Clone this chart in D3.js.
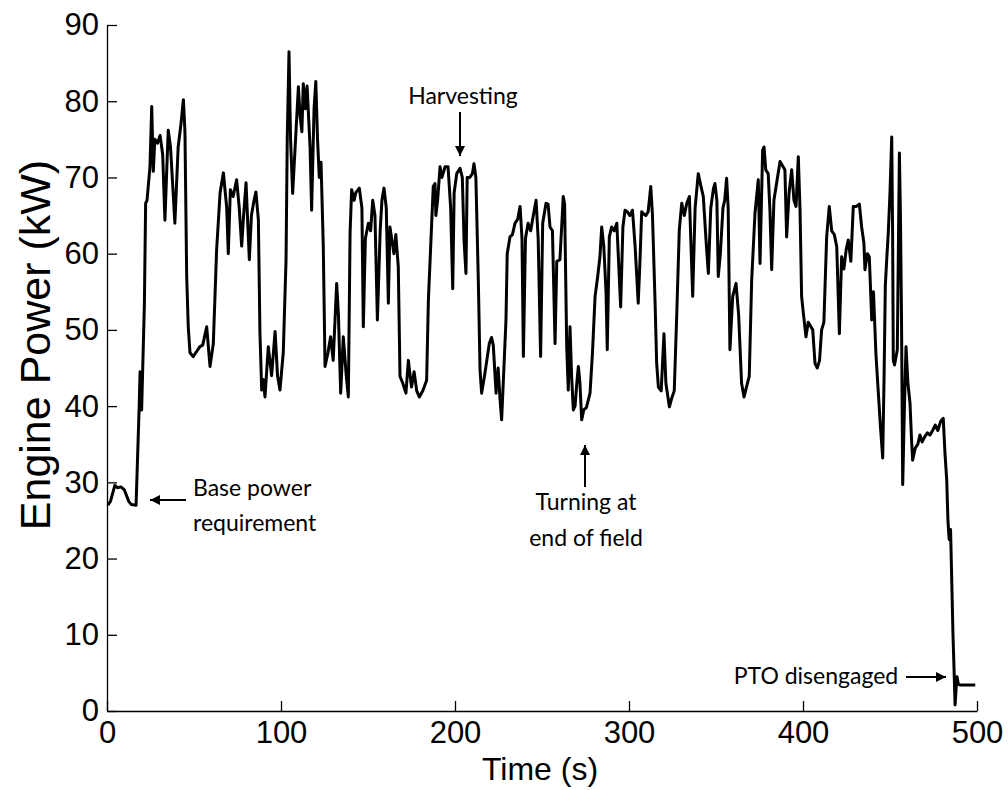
<!DOCTYPE html>
<html>
<head>
<meta charset="utf-8">
<script src="https://cdn.jsdelivr.net/npm/d3@7"></script>
<style>
  body { margin: 0; background: #fff; }
  svg { display: block; }
  .tick text { font-family: "Liberation Sans", Arial, sans-serif; }
  .note { font-family: Lato, "Open Sans", sans-serif; font-size: 23px; fill: #000; }
</style>
</head>
<body>
<script>

// time (s) and engine power (kW)
var timeSec = [0.5,2,4.5,6,8,10,12.5,14,16.7,17.4,18.5,19,19.9,21.5,22.2,23,24.7,25.7,26.6,27.5,29,30.5,32,33.3,34.5,35.2,36.5,37.5,39,40.9,42.5,43.9,44.8,45.8,46.7,47.7,49.5,51,53.4,55,57.3,59.2,61.1,63,65,66.9,68.8,69.7,70.9,72.5,74.5,76,77.4,78.5,79.9,81.8,83,84.5,85.6,87,87.9,88.9,89.8,90.8,92.7,94.6,96.6,98,99.4,101.3,102.9,103.6,104.6,105.5,106.7,108.6,110,111,112,112.8,114,115,116.7,117.6,119,120,121,122,123,124.3,125.3,127,128.5,130,132,133,134.3,135.8,137.5,138.7,139.7,140.6,142,143,145,146.5,147.3,148.5,150.2,151.5,152.7,154,155.4,157,158,159.2,160.5,161.7,162.6,164.9,166,167.4,168.4,170,171.8,173.2,175,176.5,178,179.5,181.5,183.7,184.7,186.6,187.5,188.5,189,190,191.4,192.5,194.3,196,197.5,198.7,199.5,201,202.9,204.2,205.2,206.3,207,208.5,210,210.9,212,213.4,214.4,215.3,217,219.7,221,222,223.6,224.8,225.9,226.8,227.8,229.3,230,231.6,233,234.5,236,237.4,238.5,239.3,240.5,242,243.5,245,246.6,247.8,249.2,250.4,252.3,253.5,254.6,256,257.5,258.5,260.3,261.3,262.2,263,264.2,265.1,266.1,267,268,269,270,270.9,271.8,272.8,274,275.5,277.6,279,280.5,282,283.3,284.3,285.5,286.8,287.5,288.7,290,291.5,293,294.4,295.2,296.5,297.7,299,300.5,302,303.5,305.3,306.3,307.3,308.5,309.7,311,312.5,313.5,315,315.9,316.9,318.5,320.1,321.2,323.2,324.5,326,327.4,328.9,330.3,331.8,333.2,334.7,336.6,338,339.8,341.2,342.7,344.2,345.6,347,348.5,349.4,350.5,351.3,352.5,354,355,356.1,357,358,359.6,361.5,363,364.7,366.1,367.5,369.1,370.5,372.4,374.3,375.3,376.8,377.6,378.6,380,381,382,383.3,385,386.8,388.3,389.6,390.6,392,393.5,394.8,396,397.3,398.3,399.2,400.2,401.7,403,404.3,405.6,406.9,408.2,409.5,410.7,412,413.6,415.1,416.5,418,419.4,420.9,422.2,423.5,424.8,426,427.5,428.9,430.5,432.4,433.7,435,435.6,437,438.1,439.5,440.5,441.9,443.3,444.6,445.8,446.6,447.3,448.1,449,450,451,451.5,451.9,452.6,454.2,455.4,456,456.6,457.3,458.3,459.2,460.3,461.5,462.3,463,464.5,466,467.2,468.5,470,471.5,473,474.5,476,477.5,479.1,480.6,481.6,482.6,483.3,484,484.8,485.5,486.2,487,487.4,488,488.5,489.3,490.5,499];

var powerKW = [27.0,27.5,29.6,29.3,29.4,29.0,27.5,27.1,27.0,32,40,44.5,39.5,53.5,66.6,67,71.4,79.3,70.8,75,74.5,75.5,73,64.4,72,76.2,74,70,64,74,77,80.2,76,57,50.4,47,46.5,47,47.8,48,50.4,45.2,48.2,60.5,68,70.6,66,60,68.4,67.5,69.7,66,61,65,69.3,59.2,65,67,68.1,64.4,49.6,42.1,43.5,41.2,47.8,44,49.8,44,42.1,47,59.2,75.3,86.5,75,67.9,76,81.9,78,76,82.3,79,82,74,65.7,79,82.6,75,70,72,61,45.2,47,49.1,46,56.1,52,41.7,49.1,44,41.2,62.7,68.4,67,68,68.6,66,50.4,62,64,63,67,65,51.3,63,67,68.6,66,53.5,63.5,60,62.5,58.3,43.9,43,41.7,46,42.5,44.5,42,41.2,42,43.4,53.9,64,68.8,69.2,65,67,71.4,70,71.4,71.4,66,55.4,68,70.5,71.2,70,61.8,57.4,70,70,70.5,71.8,70,56.5,44.7,41.7,44,48.2,49,48,41.7,45,40.8,38.2,43.4,51.3,60,62.2,62.5,64,64.5,66.2,62,46.5,62,64,63,65,67,62,46.5,64,66.6,66.5,63.5,63,48.2,59,59.2,63.5,67.5,66.5,47.8,42.1,50.4,44,39.5,40,43,45.2,43,38.2,39.5,39.8,41.7,47,54.4,57,59.6,63.5,61,55,47.4,62.2,63.5,63,64,57,53,63.5,65.7,65.5,65,65.7,61,53.5,59,65.5,65.2,65,65.5,68.8,65,53.5,45.6,42.5,42,49.5,43,39.9,41,42,51.7,63.1,66.6,65,66.6,67.5,54.4,66,70.5,69,67.5,62,57.4,66,68.5,69.2,67,57,60,66,67,69.9,66,47.4,54.4,56.1,52,43,41.2,42.5,43.9,56.5,65.3,69.7,58.7,73.6,74,71,70.5,65.7,57.9,67,69.5,72.1,71.5,71,62.2,68,71,67,66.2,72.7,65.7,54.4,52.2,49.1,51,50.5,50,45.6,45,46,50,51,62.2,66.2,63,62.5,60.9,49.5,59.6,58,60.5,61.8,59,66.2,66.2,66.5,63.5,61.4,57.9,60,59.6,51.3,55,46.9,41.7,37,33.2,43.9,55.7,59.2,62.7,68,75.3,62.7,46,45.4,47.4,73.2,65,52,29.7,40,47.8,43,40.4,36,32.9,34.5,35,36.2,35.3,36,36.5,36.2,36.8,37.5,36.8,38,38.4,33.8,30.3,25,22.5,23.8,17,10,4,0.8,3,4.5,3.5,3.4,3.4];

var xTicks = [0, 100, 200, 300, 400, 500];
var yTicks = [0, 10, 20, 30, 40, 50, 60, 70, 80, 90];

var data = timeSec.map(function(t, i){ return {t: t, p: powerKW[i]}; });

var width = 1008, height = 790;
var margin = {left: 107, right: 31, top: 25, bottom: 79};
var w = width - margin.left - margin.right;
var h = height - margin.top - margin.bottom;

var svg = d3.select("body").append("svg").attr("width", width).attr("height", height);
var g = svg.append("g").attr("transform", "translate(" + margin.left + "," + margin.top + ")");

//SCALES
var xScale = d3.scaleLinear().domain([0, 500]).range([0, w]);
var yScale = d3.scaleLinear().domain([0, 90]).range([h, 0]);

//AXES (ticks point inwards, like matlab)
var xAxis = d3.axisBottom(xScale).tickValues(xTicks).tickSizeInner(-10).tickSizeOuter(0).tickPadding(10);
var yAxis = d3.axisLeft(yScale).tickValues(yTicks).tickSizeInner(-10).tickSizeOuter(0).tickPadding(8);

var gx = g.append("g").attr("transform", "translate(0," + h + ")").call(xAxis);
var gy = g.append("g").call(yAxis);

[gx, gy].forEach(function(a){
  a.select(".domain").attr("stroke", "#000").attr("stroke-width", 1.3);
  a.selectAll(".tick line").attr("stroke", "#000").attr("stroke-width", 1.3);
  a.selectAll(".tick text").attr("font-size", 31).attr("fill", "#000");
});

//AXIS TITLES
svg.append("text")
  .attr("x", 540).attr("y", 780)
  .attr("text-anchor", "middle")
  .style("font-family", "'Liberation Sans', Arial, sans-serif")
  .style("font-size", "32px")
  .text("Time (s)");

svg.append("text")
  .attr("transform", "translate(50,345) rotate(-90)")
  .attr("text-anchor", "middle")
  .style("font-family", "'Liberation Sans', Arial, sans-serif")
  .style("font-size", "43px")
  .text("Engine Power (kW)");

//LINE
var line = d3.line()
  .x(function(d){ return xScale(d.t); })
  .y(function(d){ return yScale(d.p); });

g.append("path")
  .attr("d", line(data))
  .attr("fill", "none")
  .attr("stroke", "#000")
  .attr("stroke-width", 3)
  .attr("stroke-linejoin", "round");

//ANNOTATIONS
svg.append("defs").append("marker")
  .attr("id", "head")
  .attr("viewBox", "0 0 10 10")
  .attr("refX", 10).attr("refY", 5)
  .attr("markerWidth", 5).attr("markerHeight", 5)
  .attr("markerUnits", "strokeWidth")
  .attr("orient", "auto")
  .append("path").attr("d", "M0,0L10,5L0,10z").attr("fill", "#000");

function arrow(x1, y1, x2, y2){
  svg.append("line")
    .attr("x1", x1).attr("y1", y1).attr("x2", x2).attr("y2", y2)
    .attr("stroke", "#000").attr("stroke-width", 2)
    .attr("marker-end", "url(#head)");
}

function note(x, y, txt, anchor){
  svg.append("text").attr("class", "note")
    .attr("x", x).attr("y", y)
    .attr("text-anchor", anchor || "middle")
    .text(txt);
}

note(463, 104, "Harvesting");
arrow(460, 112, 460, 156);

arrow(186, 500, 150, 500);
note(193, 496, "Base power", "start");
note(193, 531, "requirement", "start");

arrow(585, 487, 585, 445);
note(586, 510, "Turning at");
note(586, 546, "end of field");

note(816, 684, "PTO disengaged");
arrow(906, 677, 946, 677);

</script>
</body>
</html>
